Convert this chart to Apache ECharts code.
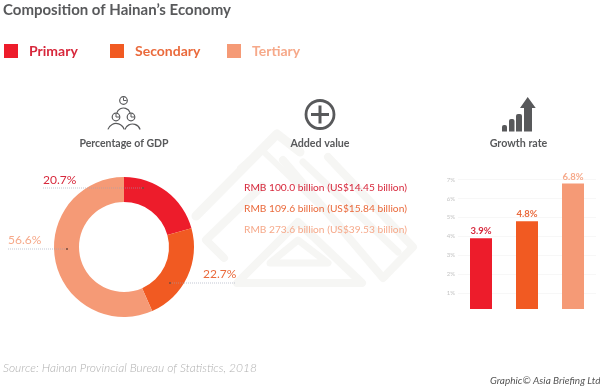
<!DOCTYPE html>
<html>
<head>
<meta charset="utf-8">
<style>
  html, body { margin: 0; padding: 0; background: #fff; }
  #chart { width: 600px; height: 390px; }
</style>
<script src="https://cdn.jsdelivr.net/npm/echarts@6/dist/echarts.min.js"></script>
</head>
<body>
<div id="chart"></div>
<script>
const sectors = ['Primary', 'Secondary', 'Tertiary']
const colors = ['#ed1c2b', '#f15a22', '#f59a76']
const textColors = ['#d7283c', '#ea6a3c', '#f6a98a']
const gdpShare = [20.7, 22.7, 56.6]
const growth = [3.9, 4.8, 6.8]
const growthTicks = [1, 2, 3, 4, 5, 6, 7]
const addedValue = [
  'RMB 100.0 billion (US$14.45 billion)',
  'RMB 109.6 billion (US$15.84 billion)',
  'RMB 273.6 billion (US$39.53 billion)'
]

const font = 'Lato, sans-serif'
const grey = '#58595b'
const mark = '#f6f6f4'

// 水印
function bgLine (points, w) {
  return { type: 'polyline', silent: true, z: 0, shape: { points }, style: { fill: null, stroke: mark, lineWidth: w, lineJoin: 'round', lineCap: 'round' } }
}
const watermark = [
  bgLine([[196, 216], [277, 134], [300, 152]], 9),
  bgLine([[262, 186], [206, 240], [224, 258]], 8),
  bgLine([[283, 160], [383, 278], [413, 247], [328, 157]], 8),
  bgLine([[303, 162], [398, 252]], 7),
  bgLine([[240, 168], [262, 150], [340, 225]], 6),
  { type: 'polygon', silent: true, z: 0, shape: { points: [[237, 283], [298, 222], [362, 283]] }, style: { fill: null, stroke: mark, lineWidth: 8, lineJoin: 'round' } },
  { type: 'polygon', silent: true, z: 0, shape: { points: [[270, 263], [298, 240], [328, 263]] }, style: { fill: null, stroke: mark, lineWidth: 7, lineJoin: 'round' } }
]

// 图标
function stroke (type, shape, w) {
  return { type, silent: true, z: 5, shape, style: { fill: null, stroke: grey, lineWidth: w || 1.2 } }
}
function fillRect (x, y, width, height) {
  return { type: 'rect', silent: true, z: 5, shape: { x, y, width, height, r: [2, 2, 0, 0] }, style: { fill: grey } }
}
function person (cx, cy) {
  return [
    stroke('circle', { cx, cy, r: 3.8 }),
    stroke('polyline', { points: [[cx, cy - 3], [cx, cy], [cx + 3, cy]] }, 1)
  ]
}
function shoulders (cx, cy, r) {
  return stroke('arc', { cx, cy, r, startAngle: Math.PI * 1.1, endAngle: Math.PI * 1.9 })
}
const icons = [
  ...person(123.5, 100.5), ...person(116, 117), ...person(131, 117),
  shoulders(123.5, 115, 7), shoulders(116, 132, 8.5), shoulders(132.5, 132, 8),
  stroke('circle', { cx: 320, cy: 114.5, r: 14 }, 2.8),
  stroke('line', { x1: 311, y1: 114.5, x2: 329, y2: 114.5 }, 3),
  stroke('line', { x1: 320, y1: 105.5, x2: 320, y2: 123.5 }, 3),
  fillRect(502, 125, 5, 6.5), fillRect(509, 119, 5.5, 12.5), fillRect(516, 114, 6, 17.5),
  { type: 'polygon', silent: true, z: 5, shape: { points: [[527.7, 97], [535.7, 108], [532, 108], [532, 131.5], [524, 131.5], [524, 108], [520, 108]] }, style: { fill: grey } }
]

// 饼图引线
function leader (x1, x2, y, dotX) {
  return [
    { type: 'line', silent: true, z: 6, shape: { x1, y1: y, x2, y2: y }, style: { stroke: '#9aa3b5', lineWidth: 0.6, lineDash: [1, 1] } },
    { type: 'circle', silent: true, z: 7, shape: { cx: dotX, cy: y, r: 1 }, style: { fill: '#7a4a3a' } }
  ]
}
function caption (text, x, y, size, fontStyle, fill, align) {
  return { type: 'text', silent: true, z: 8, x, y, style: { text, font: fontStyle + ' ' + size + 'px ' + font, fill, align: align || 'left', verticalAlign: 'middle' } }
}

const graphicEls = [
  ...watermark,
  ...icons,
  ...leader(43, 143, 188, 143),
  ...leader(8, 67, 249, 67),
  ...leader(170, 236, 283, 170),
  caption('Composition of Hainan\u2019s Economy', 3, 10.5, 15, 'bold', grey),
  caption('Percentage of GDP', 124, 144, 10.5, 'bold', grey, 'center'),
  caption('Added value', 320, 144, 10.7, 'bold', grey, 'center'),
  caption('Growth rate', 518.5, 144, 10.7, 'bold', grey, 'center'),
  caption('Source: Hainan Provincial Bureau of Statistics, 2018', 3, 368, 12, 'italic 300', '#b0b0b0'),
  caption('Graphic\u00a9 Asia Briefing Ltd.', 490, 381, 10, 'italic', '#555')
]
addedValue.forEach((t, i) => {
  graphicEls.push(caption(t, 244, 188 + i * 20.7, 10.2, 'normal', textColors[i]))
})

// 与 sectors 顺序对应
const labelSpots = [
  { x: 43, y: 180 },
  { x: 203, y: 274 },
  { x: 8, y: 240 }
]

const chart = echarts.init(document.getElementById('chart'))
chart.setOption({
  animation: false,
  backgroundColor: '#fff',
  legend: sectors.map((name, i) => ({
    left: [-1, 105, 222][i],
    top: 39,
    selectedMode: false,
    itemWidth: 14,
    itemHeight: 14,
    itemGap: 0,
    data: [{ name, icon: 'rect', itemStyle: { color: colors[i] } }],
    textStyle: { color: textColors[i], fontFamily: font, fontWeight: 'bold', fontSize: 14, padding: [0, 0, 0, 6] }
  })),
  grid: { left: 458, width: 138, top: 179.7, bottom: 81 },
  xAxis: {
    type: 'category',
    data: sectors,
    axisLine: { show: false },
    axisTick: { show: false },
    axisLabel: { show: false }
  },
  yAxis: {
    type: 'value',
    min: 0.15,
    max: 7,
    axisLine: { show: false },
    axisTick: { show: false, customValues: growthTicks },
    axisLabel: { customValues: growthTicks, formatter: '{value}%', color: '#c4c4c4', fontSize: 6, fontFamily: font, margin: 3 },
    splitLine: { lineStyle: { color: '#f4f4f4', width: 0.7 } }
  },
  series: [
    {
      type: 'pie',
      center: [124, 247],
      radius: [45, 70],
      startAngle: 90,
      clockwise: true,
      silent: true,
      avoidLabelOverlap: false,
      data: sectors.map((name, i) => ({
        name,
        value: gdpShare[i],
        itemStyle: { color: colors[i] },
        label: { color: textColors[i] }
      })),
      label: { formatter: '{c}%', fontFamily: font, fontSize: 12, overflow: 'none' },
      labelLine: { show: false },
      labelLayout: params => ({ x: labelSpots[params.dataIndex].x, y: labelSpots[params.dataIndex].y, align: 'left', verticalAlign: 'middle', hideOverlap: false })
    },
    {
      type: 'bar',
      barWidth: 22,
      silent: true,
      data: growth.map((value, i) => ({
        value,
        itemStyle: { color: colors[i] },
        label: { color: textColors[i] }
      })),
      label: { show: true, position: 'top', distance: 2, formatter: '{c}%', fontFamily: font, fontSize: 9.5, fontWeight: 'bold' }
    }
  ],
  graphic: { elements: graphicEls }
})
window.addEventListener('resize', () => {
  chart.resize()
})
</script>
</body>
</html>
